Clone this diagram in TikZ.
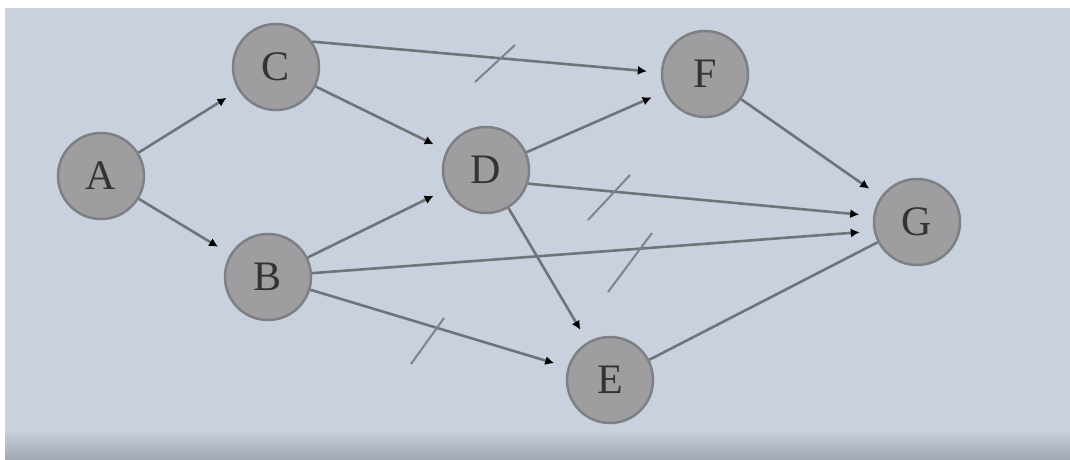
\documentclass[tikz,border=0pt]{standalone}
\usepackage{fontspec}
\setmainfont{Liberation Serif}
\usetikzlibrary{arrows.meta}
\definecolor{bgc}{HTML}{C8D1DD}
\definecolor{nodefill}{HTML}{9E9EA0}
\definecolor{nodeedge}{HTML}{7E8084}
\definecolor{edgec}{HTML}{6F7479}
\definecolor{tickc}{HTML}{7D848B}
\definecolor{txt}{HTML}{333335}
\tikzset{
  vert/.style={circle, fill=nodefill, draw=nodeedge, line width=2.5pt, minimum size=86pt, inner sep=0pt,
    text=txt, font=\fontsize{42}{44}\selectfont},
  conn/.style={draw=edgec, line width=2.6pt, -{Latex[length=9pt,width=9pt,black]}, shorten >=14pt},
  plainconn/.style={draw=edgec, line width=2.6pt},
  tick/.style={draw=tickc, line width=2pt}
}
\begin{document}
\begin{tikzpicture}[x=1pt,y=-1pt]
\useasboundingbox (0,0) rectangle (1070,460);
\fill[bgc] (0,0) rectangle (1070,460);
\shade[top color=bgc, bottom color=bgc!80!black] (0,430) rectangle (1070,460);
\fill[white] (0,0) rectangle (1070,8);
\fill[white] (0,0) rectangle (5,460);
\node[vert] (A) at (101,176) {A};
\node[vert] (C) at (276,67) {C};
\node[vert] (B) at (268,277) {B};
\node[vert] (D) at (486,170) {D};
\node[vert] (E) at (610,380) {E};
\node[vert] (F) at (705,74) {F};
\node[vert] (G) at (917,222) {G};
\draw[conn] (A) -- (C);
\draw[conn] (A) -- (B);
\draw[conn] (C) -- (D);
\draw[conn] (C.35) -- (F.178);
\draw[conn] (B) -- (D);
\draw[conn] (B.5) -- (G.192);
\draw[conn] (B) -- (E);
\draw[conn] (D) -- (F);
\draw[conn] (D.342) -- (G.172);
\draw[conn] (D) -- (E);
\draw[conn] (F) -- (G);
\draw[plainconn] (E) -- (G);
\draw[tick] (475,82) -- (515,45);
\draw[tick] (588,220) -- (630,175);
\draw[tick] (608,292) -- (652,233);
\draw[tick] (411,364) -- (444,318);
\end{tikzpicture}
\end{document}
